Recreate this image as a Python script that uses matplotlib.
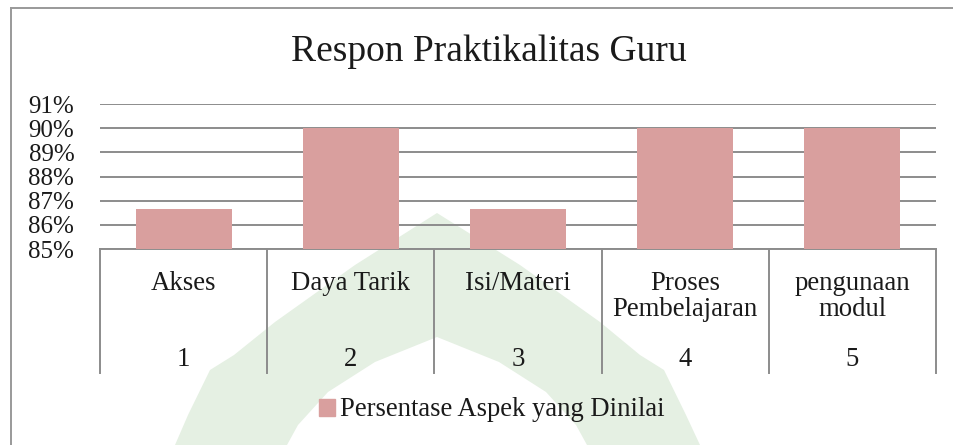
import matplotlib.pyplot as plt
from matplotlib.lines import Line2D
from matplotlib.patches import Patch, Polygon
from matplotlib.ticker import PercentFormatter

aspects = ["Akses", "Daya Tarik", "Isi/Materi", "Proses\nPembelajaran", "pengunaan\nmodul"]
numbers = ["1", "2", "3", "4", "5"]
values = [0.8667, 0.90, 0.8667, 0.90, 0.90]
yticks = [0.85, 0.86, 0.87, 0.88, 0.89, 0.90, 0.91]

plt.rcParams['font.family'] = ['Liberation Serif', 'DejaVu Serif']
bar_color = "#D99F9E"
line_color = "#8C8C8C"
text_color = "#1A1A1A"

W, H = 954, 445
fig = plt.figure(figsize=(W / 100, H / 100), dpi=100)


def px(pts):
    # pixel coords (from top-left) to figure fraction
    return [(a / W, 1 - b / H) for a, b in pts]


# faint green watermark behind the chart
outer = [(437, 213), (520, 265), (600, 322), (640, 355), (664, 370), (686, 415),
         (700, 445), (175, 445), (188, 415), (210, 370), (234, 355), (275, 322),
         (355, 265)]
inner = [(437, 337), (499, 362), (546, 392), (576, 425), (587, 445),
         (287, 445), (298, 425), (328, 392), (375, 362)]
fig.add_artist(Polygon(px(outer), closed=True, transform=fig.transFigure,
                       facecolor="#E5F0E3", edgecolor='none', zorder=0))
fig.add_artist(Polygon(px(inner), closed=True, transform=fig.transFigure,
                       facecolor="white", edgecolor='none', zorder=0))

# axes placed in pixel terms
left, right, top, bottom = 100, 936, 104, 249
ax = fig.add_axes([left / W, 1 - bottom / H, (right - left) / W, (bottom - top) / H])
ax.patch.set_visible(False)

x = list(range(len(values)))
ax.bar(x, [v - yticks[0] for v in values], bottom=yticks[0], width=0.575,
       color=bar_color, zorder=3)

ax.set_xlim(-0.5, len(values) - 0.5)
ax.set_ylim(yticks[0], yticks[-1])
ax.set_yticks(yticks)
ax.yaxis.set_major_formatter(PercentFormatter(1.0, decimals=0))
ax.tick_params(axis='y', length=0, pad=18.5, labelsize=18, colors=text_color)
ax.tick_params(axis='x', length=0, labelbottom=False)
ax.grid(axis='y', color=line_color, linewidth=1.4, zorder=0)
for s in ['top', 'right', 'left']:
    ax.spines[s].set_visible(False)
ax.spines['bottom'].set_color(line_color)
ax.spines['bottom'].set_linewidth(1.4)

# multi-level category axis
ax_h = bottom - top
depth = (bottom - 373) / ax_h
tr = ax.get_xaxis_transform()
for b in range(len(values) + 1):
    ax.plot([b - 0.5, b - 0.5], [0, depth], transform=tr, color=line_color,
            lw=1.4, clip_on=False)
for i in x:
    ax.text(i, (bottom - 271) / ax_h, aspects[i], transform=tr, ha='center',
            va='top', fontsize=19.3, color=text_color, linespacing=1.03)
    ax.text(i, (bottom - 359) / ax_h, numbers[i], transform=tr, ha='center',
            va='center', fontsize=19.3, color=text_color)

fig.suptitle("Respon Praktikalitas Guru", x=489 / W, y=1 - 52 / H, va='center',
             fontsize=27, color=text_color)

fig.legend(handles=[Patch(color=bar_color, label="Persentase Aspek yang Dinilai")],
           loc='center', bbox_to_anchor=(492 / W, 1 - 410 / H), frameon=False,
           fontsize=19.2, handlelength=0.6, handleheight=0.6, handletextpad=0.2,
           labelcolor=text_color)

# outer chart frame (cropped on right and bottom)
fig.add_artist(Line2D([11 / W, 11 / W], [0, 1 - 8 / H], transform=fig.transFigure,
                      color="#999999", lw=1.4))
fig.add_artist(Line2D([11 / W, 1], [1 - 8 / H, 1 - 8 / H], transform=fig.transFigure,
                      color="#999999", lw=1.4))

fig.savefig("out.png", dpi=100)
